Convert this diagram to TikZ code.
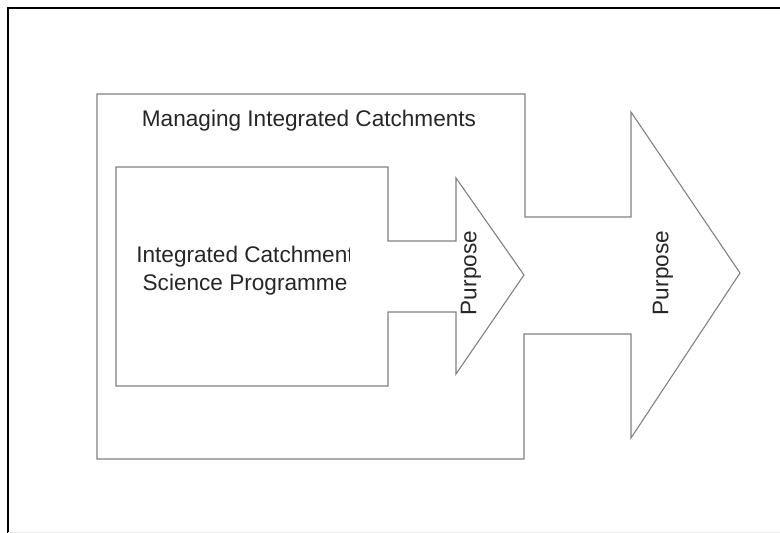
\documentclass[tikz,border=0pt]{standalone}
\usepackage{fontspec}
\setmainfont{Liberation Sans}
\begin{document}
\begin{tikzpicture}[x=1pt, y=-1pt, line join=miter,
    outline/.style={draw=black!50, line width=1.1pt},
    lbl/.style={inner sep=0pt, font=\fontsize{22.6}{28}\selectfont, text=black!85},
    vlbl/.style={lbl, rotate=90}]
				\useasboundingbox (0,0) rectangle (780,533);
				% page frame
				\draw[line width=2.4pt] (8,533)--(8,8)--(780,8);
				\draw[black!8, line width=0.8pt] (8,532)--(780,532);
				% outer arrow
				\draw[outline] (97,94)--(525,94)--(525,217)--(631,217)--(631,112)--(740,273)
					--(631,438)--(631,334)--(524,334)--(524,459)--(97,459)--cycle;
				% inner arrow
				\draw[outline] (116,167)--(388,167)--(388,241)--(456,241)--(456,178)--(524,275)
					--(456,374)--(456,312)--(388,312)--(388,386)--(116,386)--cycle;
				\node[lbl] (mic) at (309,121) {Managing Integrated Catchments};
				\begin{scope}
					\clip (116,167) rectangle (349,386);
					\node[lbl, align=center] (icsp) at (245,271) {Integrated Catchment\\Science Programme};
				\end{scope}
				\node[vlbl] (p1) at (471,273) {Purpose};
				\node[vlbl] (p2) at (663,273) {Purpose};
			\end{tikzpicture}
\end{document}
